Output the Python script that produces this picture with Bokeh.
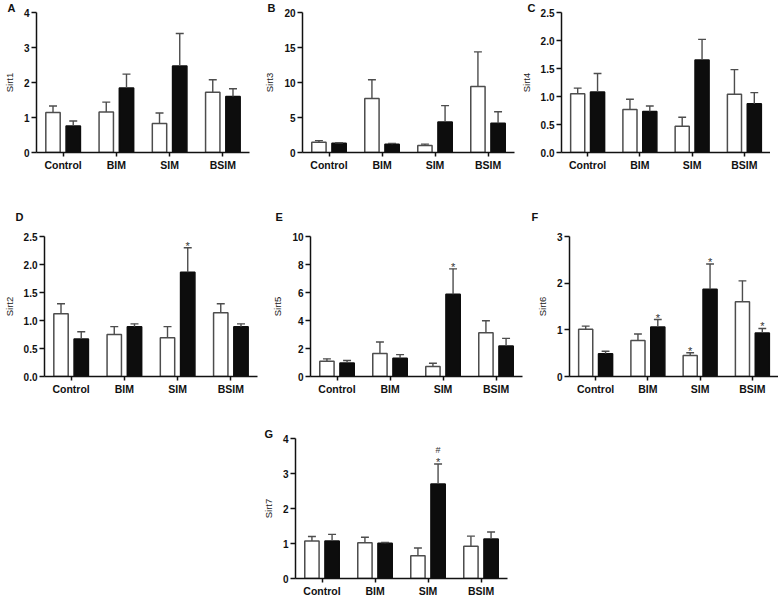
from bokeh.plotting import figure
from bokeh.models import ColumnDataSource, FactorRange, Range1d, FixedTicker, NumeralTickFormatter, Spacer
from bokeh.layouts import row, column
from bokeh.transform import dodge
from bokeh.core.properties import value
from bokeh.embed import file_html
from bokeh.resources import INLINE

groups = ["Control", "BIM", "SIM", "BSIM"]

# A  Sirt1
sirt1_white = [1.14, 1.16, 0.83, 1.72]
sirt1_white_sem = [0.19, 0.28, 0.30, 0.36]
sirt1_black = [0.76, 1.84, 2.47, 1.60]
sirt1_black_sem = [0.14, 0.40, 0.93, 0.22]

# B  Sirt3
sirt3_white = [1.47, 7.72, 1.00, 9.44]
sirt3_white_sem = [0.23, 2.68, 0.20, 4.93]
sirt3_black = [1.33, 1.18, 4.37, 4.18]
sirt3_black_sem = [0.07, 0.12, 2.32, 1.65]

# C  Sirt4
sirt4_white = [1.05, 0.77, 0.47, 1.04]
sirt4_white_sem = [0.10, 0.18, 0.16, 0.44]
sirt4_black = [1.08, 0.73, 1.65, 0.87]
sirt4_black_sem = [0.33, 0.10, 0.37, 0.20]

# D  Sirt2
sirt2_white = [1.12, 0.75, 0.69, 1.14]
sirt2_white_sem = [0.18, 0.14, 0.20, 0.16]
sirt2_black = [0.67, 0.89, 1.86, 0.89]
sirt2_black_sem = [0.13, 0.05, 0.44, 0.05]

# E  Sirt5
sirt5_white = [1.09, 1.64, 0.71, 3.13]
sirt5_white_sem = [0.17, 0.82, 0.24, 0.85]
sirt5_black = [0.97, 1.30, 5.87, 2.18]
sirt5_black_sem = [0.17, 0.26, 1.82, 0.54]

# F  Sirt6
sirt6_white = [1.01, 0.77, 0.45, 1.60]
sirt6_white_sem = [0.07, 0.14, 0.06, 0.45]
sirt6_black = [0.49, 1.06, 1.87, 0.93]
sirt6_black_sem = [0.05, 0.16, 0.54, 0.10]

# G  Sirt7
sirt7_white = [1.07, 1.02, 0.65, 0.92]
sirt7_white_sem = [0.13, 0.16, 0.22, 0.29]
sirt7_black = [1.07, 1.01, 2.70, 1.13]
sirt7_black_sem = [0.19, 0.02, 0.57, 0.20]

no_sig = ["", "", "", ""]
sirt2_sig_black = ["", "", "*", ""]
sirt5_sig_black = ["", "", "*", ""]
sirt6_sig_white = ["", "", "*", ""]
sirt6_sig_black = ["", "*", "*", "*"]
sirt7_sig_black = ["", "", "*", ""]
sirt7_sig2_black = ["", "", "#", ""]

yticks_1_4 = [0, 1, 2, 3, 4]
yticks_3 = [0, 5, 10, 15, 20]
yticks_half = [0, 0.5, 1.0, 1.5, 2.0, 2.5]
yticks_5 = [0, 2, 4, 6, 8, 10]
yticks_6 = [0, 1, 2, 3]

FONT = "Liberation Sans"
INK = "#111111"
GREY = "#4d4d4d"
DW = 0.19
BW = 0.27
CAP = 0.075


def panel(letter, ylabel, ymax, yticks, fmt, white, wsem, black, bsem,
          sig_w, sig_b, sig2_b, cols, rows, fw, fh, lx, lstand):
    p = figure(x_range=FactorRange(factors=groups), y_range=Range1d(0, ymax),
               frame_width=fw, frame_height=fh,
               min_border_left=cols[0], min_border_right=cols[1],
               min_border_top=rows[0], min_border_bottom=rows[1],
               toolbar_location=None, output_backend="svg", tools="")
    wt = [a + b for a, b in zip(white, wsem)]
    bt = [a + b for a, b in zip(black, bsem)]
    src = ColumnDataSource(dict(cat=groups, w=white, wt=wt, b=black, bt=bt,
                                ws=sig_w, bs=sig_b, bs2=sig2_b))
    p.vbar(x=dodge("cat", -DW, range=p.x_range), top="w", bottom=0, width=BW,
           fill_color="white", line_color=GREY, line_width=1.5, source=src)
    p.vbar(x=dodge("cat", DW, range=p.x_range), top="b", bottom=0, width=BW,
           fill_color="#0d0d0d", line_color="#0d0d0d", line_width=1.5, source=src)
    for d, t, e in [(-DW, "w", "wt"), (DW, "b", "bt")]:
        p.segment(x0=dodge("cat", d, range=p.x_range), y0=t,
                  x1=dodge("cat", d, range=p.x_range), y1=e,
                  line_color=GREY, line_width=1.4, source=src)
        p.segment(x0=dodge("cat", d - CAP, range=p.x_range), y0=e,
                  x1=dodge("cat", d + CAP, range=p.x_range), y1=e,
                  line_color=GREY, line_width=1.4, source=src)
    star_kw = dict(text_align="center", text_baseline="alphabetic",
                   text_font=value(FONT), text_font_size=value("11px"),
                   text_color="#333333", source=src)
    p.text(x=dodge("cat", -DW, range=p.x_range), y="wt", text="ws", y_offset=-2, **star_kw)
    p.text(x=dodge("cat", DW, range=p.x_range), y="bt", text="bs", y_offset=-2, **star_kw)
    p.text(x=dodge("cat", DW, range=p.x_range), y="bt", text="bs2", y_offset=-14,
           **{**star_kw, "text_font_size": value("9px")})

    # panel letter as the figure title, pulled left of the frame
    p.title.text = letter
    p.title.align = "left"
    p.title.offset = lx
    p.title.standoff = lstand
    p.title.vertical_align = "bottom"
    p.title.text_font = FONT
    p.title.text_font_style = "bold"
    p.title.text_font_size = "11px"
    p.title.text_color = INK

    p.xgrid.visible = False
    p.ygrid.visible = False
    p.outline_line_color = None
    p.background_fill_color = "white"
    p.border_fill_color = "white"

    for ax in (p.xaxis[0], p.yaxis[0]):
        ax.axis_line_width = 1.5
        ax.axis_line_color = INK
        ax.major_tick_line_width = 1.5
        ax.major_tick_line_color = INK
        ax.major_tick_in = 0
        ax.minor_tick_in = 0
        ax.minor_tick_out = 0
        ax.major_label_text_font = FONT
        ax.major_label_text_font_style = "bold"
        ax.major_label_text_color = INK

    p.yaxis.ticker = FixedTicker(ticks=yticks)
    p.yaxis.formatter = NumeralTickFormatter(format=fmt)
    p.yaxis.major_tick_out = 5
    p.yaxis.major_label_standoff = 2
    p.yaxis.major_label_text_font_size = "10px"
    p.yaxis.axis_label = ylabel
    p.yaxis.axis_label_text_font = FONT
    p.yaxis.axis_label_text_font_style = "normal"
    p.yaxis.axis_label_text_font_size = "9.5px"
    p.yaxis.axis_label_text_color = "#222222"
    p.yaxis.axis_label_standoff = 6

    p.xaxis.major_tick_out = 4
    p.xaxis.major_label_standoff = 2
    p.xaxis.major_label_text_font_size = "10.5px"
    return p


FH = 140
# column geometry: (left border, right border), frame width
C1, W1 = (31, 12), 213
C2, W2 = (39, 2), 212
C3, W3 = (45, 0), 209
# row geometry: (top border, bottom border)
R1 = (12, 40)
R2 = (44, 50)
R3 = (12, 20)

pA = panel("A", "Sirt1", 4, yticks_1_4, "0", sirt1_white, sirt1_white_sem, sirt1_black, sirt1_black_sem,
           no_sig, no_sig, no_sig, C1, R1, W1, FH, -29, -3)
pB = panel("B", "Sirt3", 20, yticks_3, "0", sirt3_white, sirt3_white_sem, sirt3_black, sirt3_black_sem,
           no_sig, no_sig, no_sig, C2, R1, W2, FH, -35, -3)
pC = panel("C", "Sirt4", 2.5, yticks_half, "0.0", sirt4_white, sirt4_white_sem, sirt4_black, sirt4_black_sem,
           no_sig, no_sig, no_sig, C3, R1, W3, FH, -34, -3)
pD = panel("D", "Sirt2", 2.5, yticks_half, "0.0", sirt2_white, sirt2_white_sem, sirt2_black, sirt2_black_sem,
           no_sig, sirt2_sig_black, no_sig, C1, R2, W1, FH, -29, 27)
pE = panel("E", "Sirt5", 10, yticks_5, "0", sirt5_white, sirt5_white_sem, sirt5_black, sirt5_black_sem,
           no_sig, sirt5_sig_black, no_sig, C2, R2, W2, FH, -35, 27)
pF = panel("F", "Sirt6", 3, yticks_6, "0", sirt6_white, sirt6_white_sem, sirt6_black, sirt6_black_sem,
           sirt6_sig_white, sirt6_sig_black, no_sig, C3, R2, W3, FH, -38, 27)
pG = panel("G", "Sirt7", 4, yticks_1_4, "0", sirt7_white, sirt7_white_sem, sirt7_black, sirt7_black_sem,
           no_sig, sirt7_sig_black, sirt7_sig2_black, C2, R3, W2, FH, -31, -3)

layout = column(
    row(pA, pB, pC),
    row(pD, pE, pF),
    row(Spacer(width=C1[0] + C1[1] + W1, height=10), pG),
)

open("out.html", "w").write(file_html(layout, INLINE))
